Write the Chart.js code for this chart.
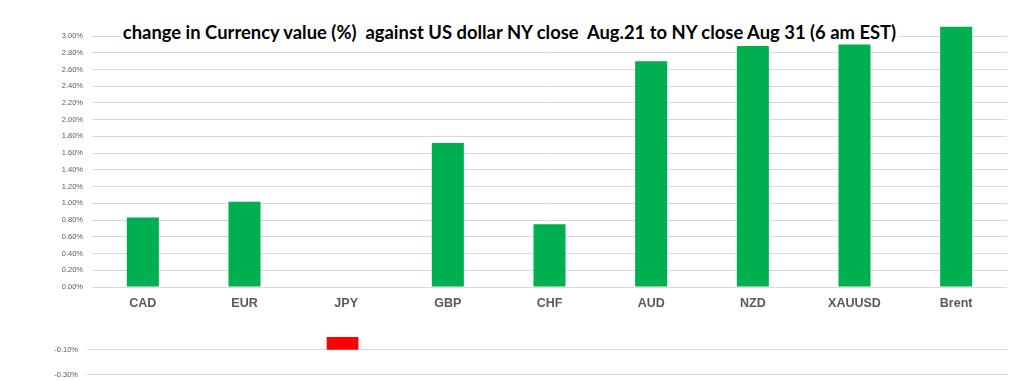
<!DOCTYPE html>
<html><head><meta charset="utf-8">
<script src="https://cdn.jsdelivr.net/npm/chart.js@4"></script>
<style>
html,body{margin:0;padding:0;background:#fff;width:1024px;height:381px;overflow:hidden;position:relative;}
#top{position:absolute;left:0;top:0;}
#bot{position:absolute;left:0;top:320px;}
#title{position:absolute;left:0;top:21px;width:1019px;text-align:center;line-height:22px;}
#title span{background:#fff;font-family:Lato,"Liberation Sans",sans-serif;font-weight:bold;font-size:18.4px;color:#000;white-space:pre;padding:0 2px;}
</style></head>
<body>
<canvas id="top" width="1024" height="320"></canvas>
<canvas id="bot" width="1024" height="75"></canvas>
<div id="title"><span>change in Currency value (%)  against US dollar NY close  Aug.21 to NY close Aug 31 (6 am EST)</span></div>
<script>
const categories = ['CAD','EUR','JPY','GBP','CHF','AUD','NZD','XAUUSD','Brent'];
const changePct = [0.83, 1.02, -0.10, 1.72, 0.75, 2.70, 2.88, 2.90, 3.11];
const upperTicks = [0,0.2,0.4,0.6,0.8,1.0,1.2,1.4,1.6,1.8,2.0,2.2,2.4,2.6,2.8,3.0];
const lowerTicks = [-0.30,-0.10];

const GREEN = '#00B050', RED = '#FF0000', GRID = '#d9d9d9', TXT = '#595959';
const pct = v => Number(v).toFixed(2) + '%';
const barColor = ctx => (ctx.raw < 0 ? RED : GREEN);

new Chart(document.getElementById('top'), {
  type: 'bar',
  data: { labels: categories, datasets: [{ data: changePct, backgroundColor: barColor, barPercentage: 0.315, categoryPercentage: 1 }] },
  options: {
    responsive: false, animation: false, devicePixelRatio: 1,
    layout: { autoPadding: false, padding: { top: 26, right: 17, bottom: 0, left: 0 } },
    plugins: { legend: { display: false }, tooltip: { enabled: false } },
    scales: {
      x: {
        grid: { display: false }, border: { display: false },
        ticks: { color: TXT, padding: 1, font: { family: '"Liberation Sans", Arial, sans-serif', size: 12.5, weight: 'bold' } },
        afterFit: s => { s.height = 33; }
      },
      y: {
        min: 0, max: 3.12,
        afterBuildTicks: s => { s.ticks = upperTicks.map(v => ({ value: v })); },
        grid: { color: GRID, drawTicks: false }, border: { display: false },
        ticks: { color: TXT, padding: 9, callback: pct, font: { family: '"Liberation Sans", Arial, sans-serif', size: 7.5 } },
        afterFit: s => { s.width = 92; }
      }
    }
  }
});

new Chart(document.getElementById('bot'), {
  type: 'bar',
  data: { labels: categories, datasets: [{ data: changePct, backgroundColor: barColor, barPercentage: 0.31, categoryPercentage: 1 }] },
  options: {
    responsive: false, animation: false, devicePixelRatio: 1,
    layout: { autoPadding: false, padding: { top: 17, right: 17, bottom: 0, left: 0 } },
    plugins: { legend: { display: false }, tooltip: { enabled: false } },
    scales: {
      x: { display: false },
      y: {
        min: -0.352, max: 0,
        afterBuildTicks: s => { s.ticks = lowerTicks.map(v => ({ value: v })); },
        grid: { color: GRID, drawTicks: false }, border: { display: false },
        ticks: { color: TXT, padding: 9, callback: pct, font: { family: '"Liberation Sans", Arial, sans-serif', size: 7.5 } },
        afterFit: s => { s.width = 87; }
      }
    }
  }
});
</script>
</body></html>
